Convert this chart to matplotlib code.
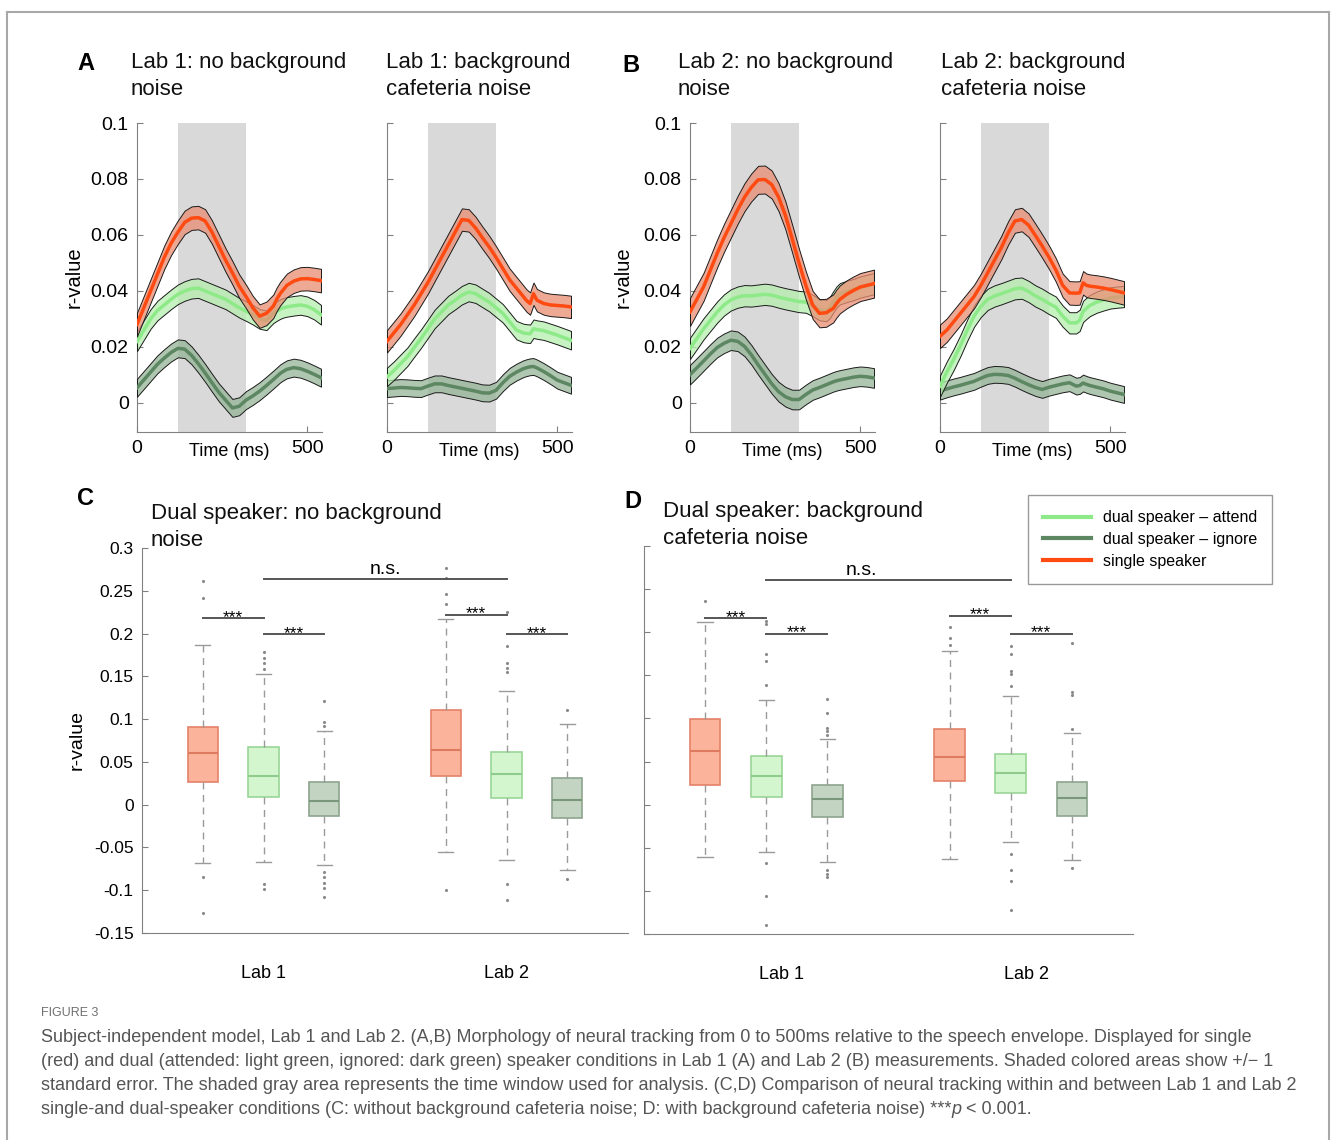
import numpy as np
import matplotlib
matplotlib.use('Agg')
from matplotlib import pyplot as plt
from matplotlib.lines import Line2D
from matplotlib.colors import to_rgba

plt.rcParams['font.family'] = ['Liberation Sans', 'DejaVu Sans']

W, H = 1331, 1140

# ---- datos curvas (A, B) ----
tiempo = [0, 20, 40, 60, 80, 100, 120, 140, 160, 180, 200, 220, 240, 260, 280, 300,
          320, 340, 360, 380, 400, 410, 420, 430, 440, 460, 480, 500, 520, 540]
ventana = (120, 320)

a1_single = [0.028, 0.034, 0.040, 0.046, 0.052, 0.057, 0.061, 0.0645, 0.066, 0.0662,
             0.065, 0.061, 0.056, 0.051, 0.0465, 0.0417, 0.038, 0.034, 0.031, 0.032,
             0.0345, 0.037, 0.039, 0.0405, 0.042, 0.0435, 0.0443, 0.0444, 0.0441, 0.0437]
a1_attend = [0.022, 0.026, 0.030, 0.033, 0.035, 0.037, 0.0388, 0.040, 0.0408, 0.041,
             0.040, 0.039, 0.038, 0.037, 0.0355, 0.034, 0.0328, 0.0315, 0.030, 0.0295,
             0.032, 0.0328, 0.0335, 0.034, 0.0343, 0.0347, 0.035, 0.0345, 0.0333, 0.0315]
a1_ignore = [0.0054, 0.0082, 0.011, 0.0138, 0.016, 0.018, 0.0195, 0.0192, 0.017, 0.014,
             0.0107, 0.0072, 0.0038, 0.001, -0.0018, -0.0012, 0.001, 0.0025, 0.0042, 0.0062,
             0.0083, 0.0094, 0.0105, 0.0113, 0.012, 0.0126, 0.0122, 0.0113, 0.0102, 0.009]
a1_se = [0.0042, 0.0035, 0.0032]

a2_single = [0.022, 0.025, 0.028, 0.0315, 0.035, 0.039, 0.043, 0.0475, 0.052, 0.0565,
             0.061, 0.0655, 0.0652, 0.0625, 0.059, 0.0557, 0.052, 0.048, 0.044, 0.041,
             0.038, 0.0365, 0.0355, 0.039, 0.0367, 0.0355, 0.035, 0.0348, 0.0346, 0.0343]
a2_attend = [0.0093, 0.0115, 0.014, 0.0165, 0.0198, 0.023, 0.0265, 0.030, 0.0325, 0.035,
             0.0367, 0.0385, 0.0396, 0.039, 0.0375, 0.036, 0.034, 0.032, 0.029, 0.026,
             0.025, 0.0248, 0.0247, 0.0265, 0.0262, 0.0258, 0.025, 0.0242, 0.0233, 0.0224]
a2_ignore = [0.0051, 0.0053, 0.0055, 0.0054, 0.0052, 0.0051, 0.006, 0.0068, 0.0068, 0.0062,
             0.0057, 0.0052, 0.0047, 0.0042, 0.0036, 0.0035, 0.0045, 0.0072, 0.0095, 0.011,
             0.0122, 0.0126, 0.0129, 0.013, 0.0125, 0.0112, 0.0097, 0.0081, 0.0072, 0.0063]
a2_se = [0.004, 0.0033, 0.003]

b1_single = [0.0325, 0.037, 0.0415, 0.0475, 0.0535, 0.059, 0.064, 0.069, 0.0735, 0.077,
             0.0797, 0.0798, 0.078, 0.0735, 0.067, 0.0586, 0.050, 0.042, 0.035, 0.032,
             0.0322, 0.033, 0.0337, 0.0355, 0.037, 0.0388, 0.0402, 0.0414, 0.042, 0.0426]
b1_attend = [0.0195, 0.023, 0.0265, 0.0295, 0.0325, 0.035, 0.0368, 0.0378, 0.0383, 0.0382,
             0.0385, 0.0388, 0.0385, 0.0378, 0.0372, 0.0367, 0.0362, 0.036, 0.0348, 0.0333,
             0.033, 0.034, 0.036, 0.0378, 0.039, 0.0398, 0.0405, 0.0414, 0.042, 0.0426]
b1_ignore = [0.0101, 0.0125, 0.015, 0.0175, 0.0198, 0.0213, 0.0224, 0.022, 0.0202, 0.0172,
             0.0136, 0.0102, 0.0068, 0.004, 0.0022, 0.0012, 0.0012, 0.003, 0.0046, 0.0055,
             0.0065, 0.007, 0.0075, 0.0079, 0.0082, 0.0087, 0.0092, 0.0095, 0.0093, 0.0089]
b1_se = [0.005, 0.0038, 0.0035]

b2_single = [0.0238, 0.026, 0.029, 0.032, 0.035, 0.038, 0.042, 0.0465, 0.051, 0.0555,
             0.0607, 0.065, 0.0655, 0.0635, 0.0598, 0.056, 0.052, 0.0475, 0.042, 0.0393,
             0.0392, 0.0393, 0.0429, 0.042, 0.0417, 0.0414, 0.041, 0.0405, 0.0399, 0.0393]
b2_attend = [0.006, 0.011, 0.0155, 0.0205, 0.026, 0.031, 0.0345, 0.037, 0.0382, 0.039,
             0.0399, 0.0408, 0.041, 0.0398, 0.0382, 0.037, 0.0355, 0.0342, 0.031, 0.0286,
             0.0286, 0.0295, 0.0327, 0.0338, 0.0348, 0.036, 0.0368, 0.0375, 0.0378, 0.038]
b2_ignore = [0.0042, 0.005, 0.0057, 0.0063, 0.007, 0.0077, 0.0088, 0.0098, 0.0102, 0.0101,
             0.0098, 0.0088, 0.0076, 0.0065, 0.0055, 0.0048, 0.0056, 0.0062, 0.0068, 0.0072,
             0.006, 0.0062, 0.0071, 0.0066, 0.0062, 0.0056, 0.005, 0.0042, 0.0036, 0.003]
b2_se = [0.0042, 0.0038, 0.003]

# ---- datos cajas (C, D) ----
# orden: Lab1 single, attend, ignore, Lab2 single, attend, ignore
posiciones = [1, 2, 3, 5, 6, 7]
labs = ['Lab 1', 'Lab 2']

c_q1 = [0.026, 0.0094, -0.0134, 0.033, 0.0083, -0.016]
c_med = [0.060, 0.0338, 0.0043, 0.0637, 0.0358, 0.0059]
c_q3 = [0.0904, 0.0676, 0.0267, 0.111, 0.0613, 0.0307]
c_lo = [-0.068, -0.0665, -0.070, -0.055, -0.065, -0.076]
c_hi = [0.187, 0.1526, 0.0865, 0.217, 0.1325, 0.094]
c_out = [[0.241, 0.261, -0.085, -0.127],
         [0.178, 0.172, 0.166, 0.158, -0.093, -0.099],
         [0.121, 0.097, 0.092, -0.079, -0.085, -0.091, -0.097, -0.108],
         [0.277, 0.265, 0.246, 0.234, -0.100],
         [0.225, 0.186, 0.166, 0.160, 0.155, -0.093, -0.111],
         [0.111, -0.0865]]
c_sig = [(1, 2, 0.218), (2, 3, 0.199), (5, 6, 0.222), (6, 7, 0.199)]
c_ns = (2, 6, 0.264)

d_q1 = [0.0231, 0.0092, -0.0146, 0.027, 0.0135, -0.013]
d_med = [0.0623, 0.0338, 0.0062, 0.055, 0.0373, 0.0073]
d_q3 = [0.0996, 0.0562, 0.0223, 0.0873, 0.0592, 0.0258]
d_lo = [-0.0608, -0.055, -0.067, -0.0627, -0.0438, -0.0646]
d_hi = [0.2115, 0.121, 0.0765, 0.178, 0.1265, 0.0827]
d_out = [[0.236],
         [0.213, 0.209, 0.175, 0.167, 0.139, -0.068, -0.106, -0.140],
         [0.1227, 0.1058, 0.089, 0.085, 0.081, -0.076, -0.080, -0.084],
         [0.2065, 0.193, 0.185],
         [0.184, 0.175, 0.155, 0.151, 0.138, -0.057, -0.076, -0.089, -0.122],
         [0.1877, 0.131, 0.127, 0.088, -0.074]]
d_sig = [(1, 2, 0.216), (2, 3, 0.198), (5, 6, 0.219), (6, 7, 0.198)]
d_ns = (2, 6, 0.261)

# colores: single, attend, ignore
c_linea = ['#ff4a12', '#8eea88', '#5d8762']
c_banda = ['#e98d72', '#b5eeae', '#94b496']
c_cara = ['#fbb49b', '#d3f6cf', '#c3d4c3']
c_borde = ['#e4826a', '#9ad596', '#8ea48e']
c_mediana = ['#de7a60', '#8fcc8b', '#7b977b']
gris_eje = '#808080'

fig = plt.figure(figsize=(W / 100, H / 100), dpi=100)


def ejes(x0, y0, x1, y1):
  return fig.add_axes([x0 / W, 1 - y1 / H, (x1 - x0) / W, (y1 - y0) / H])


def texto(x, y, s, **kw):
  return fig.text(x / W, 1 - y / H, s, **kw)


def curvas(ax, single, attend, ignore, se, etiquetas):
  t = np.array(tiempo)
  ax.axvspan(ventana[0], ventana[1], color='#d9d9d9', lw=0, zorder=0)
  series = [single, attend, ignore]
  for i in [2, 1, 0]:
    m = np.array(series[i])
    ax.fill_between(t, m - se[i], m + se[i], facecolor=to_rgba(c_banda[i], 0.75),
                    edgecolor='#1a1a1a', lw=0.7, zorder=5 - i)
    ax.plot(t, m, color=c_linea[i], lw=2.5, zorder=5.5 - i)
  ax.set_xlim(0, 543)
  ax.set_ylim(-0.0104, 0.1)
  ax.set_xticks([0, 500])
  ax.set_xticklabels(['0', '500'])
  ax.set_yticks([0, 0.02, 0.04, 0.06, 0.08, 0.1])
  if etiquetas:
    ax.set_yticklabels(['0', '0.02', '0.04', '0.06', '0.08', '0.1'])
  else:
    ax.set_yticklabels([])
  for s in ['top', 'right']:
    ax.spines[s].set_visible(False)
  for s in ['left', 'bottom']:
    ax.spines[s].set_color(gris_eje)
  ax.tick_params(direction='in', length=4, color=gris_eje, labelsize=14, pad=6)
  ax.text(0.5, -0.062, 'Time (ms)', transform=ax.transAxes, ha='center', va='center', fontsize=13)


def cajas(ax, q1, med, q3, lo, hi, out, sig, ns, ns_x, xticks, etiquetas):
  stats = []
  for i in range(6):
    stats.append({'q1': q1[i], 'med': med[i], 'q3': q3[i], 'whislo': lo[i],
                  'whishi': hi[i], 'fliers': out[i]})
  res = ax.bxp(stats, positions=posiciones, widths=0.5, patch_artist=True, manage_ticks=False,
               whiskerprops={'color': '#9a9a9a', 'linestyle': (0, (5, 4)), 'lw': 1},
               capprops={'color': '#9a9a9a', 'lw': 1},
               flierprops={'marker': '.', 'markersize': 2.5, 'markerfacecolor': '#8a8a8a',
                           'markeredgecolor': '#8a8a8a'})
  for i, caja in enumerate(res['boxes']):
    caja.set_facecolor(c_cara[i % 3])
    caja.set_edgecolor(c_borde[i % 3])
    caja.set_linewidth(1.2)
    res['medians'][i].set_color(c_mediana[i % 3])
    res['medians'][i].set_linewidth(1.5)
  for x1, x2, y in sig:
    ax.plot([x1, x2], [y, y], color='#555555', lw=1.4)
    ax.annotate('***', xy=((x1 + x2) / 2, y), xytext=(0, -2.5), textcoords='offset points',
                ha='center', va='baseline', fontsize=12.5)
  ax.plot([ns[0], ns[1]], [ns[2], ns[2]], color='#555555', lw=1.4)
  ax.annotate('n.s.', xy=(ns_x, ns[2]), xytext=(0, 3.3), textcoords='offset points',
              ha='center', va='baseline', fontsize=14)
  ax.set_xlim(0, 8)
  ax.set_ylim(-0.15, 0.3)
  ax.set_yticks([-0.15, -0.1, -0.05, 0, 0.05, 0.1, 0.15, 0.2, 0.25, 0.3])
  if etiquetas:
    ax.set_yticklabels(['-0.15', '-0.1', '-0.05', '0', '0.05', '0.1', '0.15', '0.2', '0.25', '0.3'])
  else:
    ax.set_yticklabels([])
  ax.set_xticks(xticks)
  ax.set_xticklabels(labs, fontsize=13)
  for s in ['top', 'right']:
    ax.spines[s].set_visible(False)
  for s in ['left', 'bottom']:
    ax.spines[s].set_color(gris_eje)
  ax.tick_params(axis='y', direction='in', length=4, color=gris_eje, labelsize=12.5, pad=6)
  ax.tick_params(axis='x', length=0, pad=23)


# ---- paneles de arriba ----
ax_a1 = ejes(137, 123, 322, 432)
curvas(ax_a1, a1_single, a1_attend, a1_ignore, a1_se, True)
ax_a1.set_ylabel('r-value', fontsize=14.5)
ax_a1.yaxis.set_label_coords(-0.29, 0.5)

ax_a2 = ejes(387, 123, 572, 432)
curvas(ax_a2, a2_single, a2_attend, a2_ignore, a2_se, False)

ax_b1 = ejes(690, 123, 875, 432)
curvas(ax_b1, b1_single, b1_attend, b1_ignore, b1_se, True)
ax_b1.set_ylabel('r-value', fontsize=14.5)
ax_b1.yaxis.set_label_coords(-0.31, 0.5)

ax_b2 = ejes(940, 123, 1125, 432)
curvas(ax_b2, b2_single, b2_attend, b2_ignore, b2_se, False)

tit = dict(fontsize=16, va='top', ha='left', color='#111111', linespacing=1.4)
texto(131, 52, 'Lab 1: no background\nnoise', **tit)
texto(386, 52, 'Lab 1: background\ncafeteria noise', **tit)
texto(678, 52, 'Lab 2: no background\nnoise', **tit)
texto(941, 52, 'Lab 2: background\ncafeteria noise', **tit)
texto(77, 52, 'A', fontsize=17, fontweight='bold', va='top')
texto(622, 54, 'B', fontsize=17, fontweight='bold', va='top')

# ---- paneles de abajo ----
ax_c = ejes(142, 548, 628, 933)
cajas(ax_c, c_q1, c_med, c_q3, c_lo, c_hi, c_out, c_sig, c_ns, 4.0, [2, 6], True)
ax_c.set_ylabel('r-value', fontsize=14)
ax_c.yaxis.set_label_coords(-0.115, 0.5)

ax_d = ejes(644, 546, 1133, 934)
cajas(ax_d, d_q1, d_med, d_q3, d_lo, d_hi, d_out, d_sig, d_ns, 3.56, [2.25, 6.25], False)

texto(151, 503, 'Dual speaker: no background\nnoise', **tit)
texto(663, 501, 'Dual speaker: background\ncafeteria noise', **tit)
texto(77, 487, 'C', fontsize=17, fontweight='bold', va='top')
texto(624, 490, 'D', fontsize=17, fontweight='bold', va='top')

manijas = [Line2D([], [], color=c_linea[1], lw=3),
           Line2D([], [], color=c_linea[2], lw=3),
           Line2D([], [], color=c_linea[0], lw=3)]
fig.legend(manijas, ['dual speaker \u2013 attend', 'dual speaker \u2013 ignore', 'single speaker'],
           loc='upper left', bbox_to_anchor=(1028 / W, 1 - 495 / H), borderaxespad=0,
           fancybox=False, edgecolor='#9a9a9a', framealpha=1, fontsize=11.5,
           handlelength=3.0, handletextpad=0.75, borderpad=0.95, labelspacing=0.42)

# ---- marco y leyenda de figura ----
marco = '#a8a8a8'
fig.add_artist(Line2D([7 / W, 7 / W], [0, 1 - 12 / H], transform=fig.transFigure, color=marco, lw=1.5))
fig.add_artist(Line2D([7 / W, 1329 / W], [1 - 12 / H, 1 - 12 / H], transform=fig.transFigure, color=marco, lw=1.5))
fig.add_artist(Line2D([1329 / W, 1329 / W], [0, 1 - 12 / H], transform=fig.transFigure, color=marco, lw=1.5))

fuente_pie = ['Liberation Sans Narrow', 'Liberation Sans', 'DejaVu Sans']
texto(41, 1013, 'FIGURE 3', fontsize=9, color='#707070', va='center', family=fuente_pie)
lineas_pie = [
  'Subject-independent model, Lab 1 and Lab 2. (A,B) Morphology of neural tracking from 0 to 500ms relative to the speech envelope. Displayed for single',
  '(red) and dual (attended: light green, ignored: dark green) speaker conditions in Lab 1 (A) and Lab 2 (B) measurements. Shaded colored areas show +/\u2212 1',
  'standard error. The shaded gray area represents the time window used for analysis. (C,D) Comparison of neural tracking within and between Lab 1 and Lab 2',
  'single-and dual-speaker conditions (C: without background cafeteria noise; D: with background cafeteria noise) ***',
]
pie = []
for i, linea in enumerate(lineas_pie):
  pie.append(texto(41, 1037 + 24 * i, linea, fontsize=11, color='#555555', va='center', family=fuente_pie))

# ajustar el tamano del pie al ancho de la linea 3
fig.canvas.draw()
ancho = pie[2].get_window_extent().width
tam = 11 * 1253 / ancho
for p in pie:
  p.set_fontsize(tam)
fig.canvas.draw()
x_fin = pie[3].get_window_extent().x1
p_it = fig.text(x_fin / W, 1 - 1109 / H, 'p', fontsize=tam, color='#555555', va='center',
                style='italic', family=fuente_pie)
fig.canvas.draw()
x_fin = p_it.get_window_extent().x1
fig.text(x_fin / W, 1 - 1109 / H, ' < 0.001.', fontsize=tam, color='#555555', va='center', family=fuente_pie)

fig.savefig('out.png', dpi=100)
